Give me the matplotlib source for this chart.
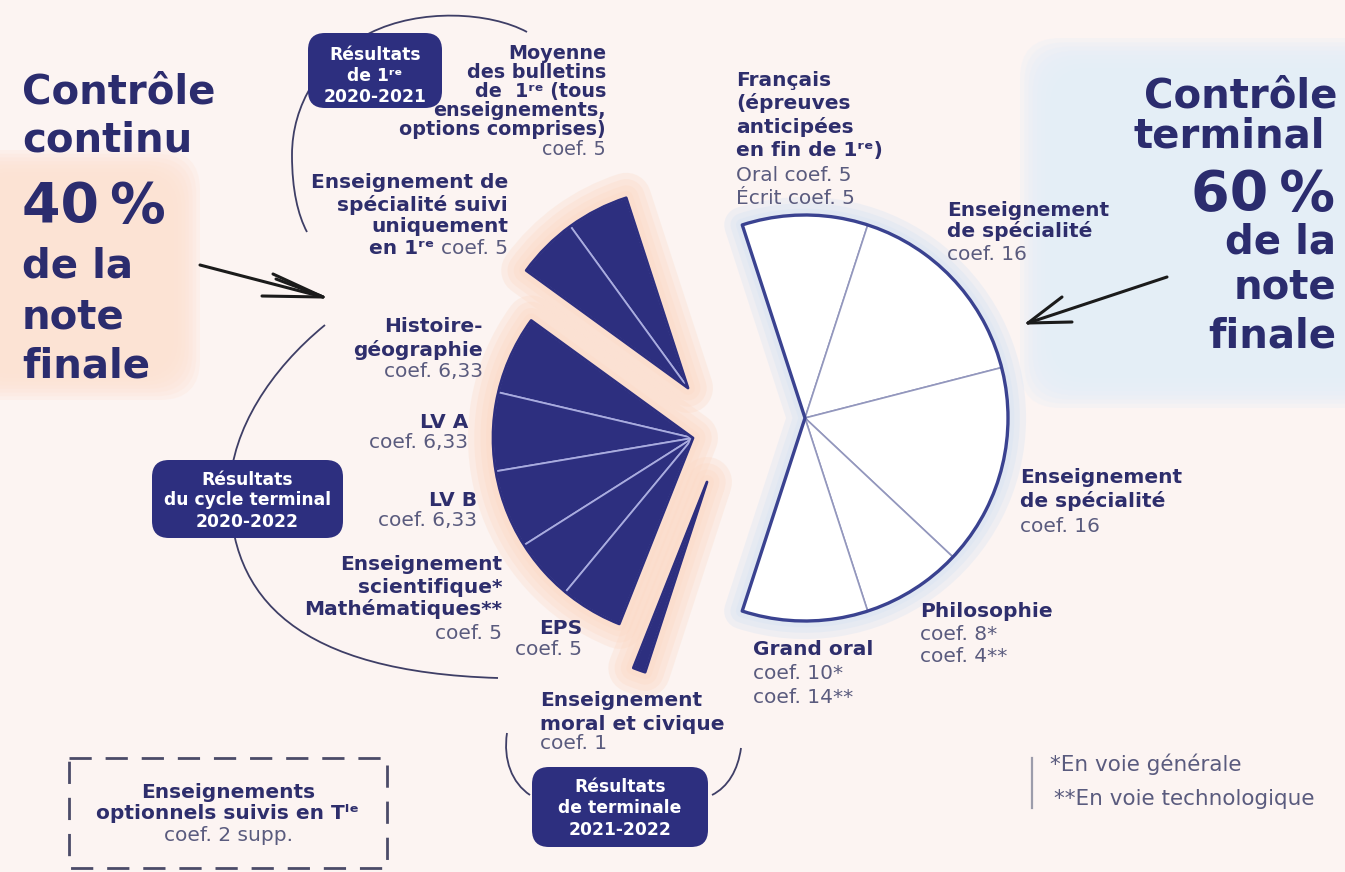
import matplotlib
matplotlib.use("Agg")
import matplotlib.pyplot as plt
from matplotlib.patches import Wedge, FancyBboxPatch, Rectangle, PathPatch
from matplotlib.path import Path
import numpy as np

# ------------------------------------------------------------------ data
left_labels = ["Moyenne des bulletins de 1re", "Spécialité suivie uniquement en 1re",
               "Histoire-géographie", "LV A", "LV B",
               "Enseignement scientifique / Mathématiques", "EPS",
               "Enseignement moral et civique"]
left_coefs = [5, 5, 6.33, 6.33, 6.33, 5, 5, 1]
left_groups = [0, 0, 1, 1, 1, 1, 1, 2]      # résultats de 1re / cycle terminal / terminale
right_labels = ["Français", "Spécialité", "Spécialité", "Philosophie", "Grand oral"]
right_coefs = [10, 16, 16, 8, 10]
headline_left = ["Contrôle", "continu", "40\u202f%", "de la", "note", "finale"]
headline_right = ["Contrôle", "terminal", "60\u202f%", "de la", "note", "finale"]

# ------------------------------------------------------------------ style
W, H = 1345, 872
BG = '#fcf4f2'
NAVY = '#2d2f7f'
NAVY_T = '#2e2e6c'
GREY_T = '#5a5b7e'
LAV = '#a9acdf'
PEACH = '#fbd9c5'
BLUE_GLOW = '#d3e2f5'
FS = 14.5

plt.rcParams['font.family'] = ['DejaVu Sans']
fig = plt.figure(figsize=(W / 100, H / 100), dpi=100, facecolor=BG)
ax = fig.add_axes([0, 0, 1, 1])
ax.set_xlim(0, W)
ax.set_ylim(H, 0)
ax.axis('off')
ax.set_facecolor(BG)
renderer = fig.canvas.get_renderer()


def soft_box(x0, y0, x1, y1, color, n=8, spread=18, alpha=0.3, rs=40):
    for i in range(n):
        d = spread * i / (n - 1)
        ax.add_patch(FancyBboxPatch((x0 + d, y0 + d), (x1 - x0) - 2 * d, (y1 - y0) - 2 * d,
                                    boxstyle=f"round,pad=0,rounding_size={rs}",
                                    fc=color, ec='none', alpha=alpha, zorder=0))


def wedge(center, r, v1, v2, **kw):
    # v1, v2: visual angles (deg, counter-clockwise); y axis is inverted
    return Wedge(center, r, -v2, -v1, **kw)


# soft background blobs
soft_box(-50, 150, 200, 400, '#fde3d3', spread=26, alpha=0.25)
soft_box(1020, 38, 1420, 408, '#e4eef9', spread=30, alpha=0.25)

# ------------------------------------------------------------------ wedge angles
total = sum(left_coefs) + sum(right_coefs)
deg = 360.0 / total
START = 108.0
lc = np.concatenate([[0], np.cumsum(left_coefs)])
left_v1 = START + deg * lc[:-1]
left_v2 = START + deg * lc[1:]
rc = np.concatenate([[0], np.cumsum(right_coefs)])
right_v2 = START - deg * rc[:-1]
right_v1 = START - deg * rc[1:]

group_center = {0: (688, 388), 1: (693, 438), 2: (707, 482)}
R_LEFT = 200
R_RIGHT_C = (805, 418)
R_RIGHT = 203

# glows
for g in sorted(set(left_groups)):
    idx = [i for i, gg in enumerate(left_groups) if gg == g]
    v1, v2 = left_v1[idx[0]], left_v2[idx[-1]]
    for lw in (36, 27, 18, 10):
        ax.add_patch(wedge(group_center[g], R_LEFT, v1, v2, fc=PEACH, ec=PEACH, lw=lw,
                           alpha=0.3, joinstyle='round', zorder=1))
for lw in (26, 17, 9):
    ax.add_patch(wedge(R_RIGHT_C, R_RIGHT, right_v1[-1], right_v2[0], fc=BLUE_GLOW,
                       ec=BLUE_GLOW, lw=lw, alpha=0.3, joinstyle='round', zorder=1))

# left (dark) wedges
for i, c in enumerate(left_coefs):
    ax.add_patch(wedge(group_center[left_groups[i]], R_LEFT, left_v1[i], left_v2[i],
                       fc=NAVY, ec=LAV, lw=1.3, zorder=3))
for g in sorted(set(left_groups)):
    idx = [i for i, gg in enumerate(left_groups) if gg == g]
    ax.add_patch(wedge(group_center[g], R_LEFT, left_v1[idx[0]], left_v2[idx[-1]],
                       fill=False, ec=NAVY, lw=2.0, joinstyle='round', zorder=4))

# right (white) wedges
for i, c in enumerate(right_coefs):
    ax.add_patch(wedge(R_RIGHT_C, R_RIGHT, right_v1[i], right_v2[i],
                       fc='white', ec='#9397bd', lw=1.2, zorder=3))
ax.add_patch(wedge(R_RIGHT_C, R_RIGHT, right_v1[-1], right_v2[0], fill=False,
                   ec='#3a4290', lw=2.4, joinstyle='round', zorder=4))

# ------------------------------------------------------------------ arcs
ARC = '#3e3e66'


def bez(pts, lw=1.3):
    codes = [Path.MOVETO] + [Path.CURVE4] * (len(pts) - 1)
    ax.add_patch(PathPatch(Path(pts, codes), fill=False, ec=ARC, lw=lw, zorder=2))


bez([(527, 32), (490, 12), (420, 8), (370, 33),
     (320, 58), (292, 105), (292, 155),
     (292, 190), (298, 215), (307, 232)])
bez([(325, 325), (270, 370), (232, 430), (230, 487),
     (228, 600), (300, 672), (498, 678)])
bez([(507, 733), (503, 760), (512, 783), (530, 795)])
bez([(741, 748), (738, 770), (728, 787), (712, 795)])

# arrows
ARW = '#1b1b1b'
for seg in [[(200, 265), (323, 297)], [(273, 274), (323, 297)], [(262, 296), (323, 297)],
            [(276, 279), (321, 296)],
            [(1167, 277), (1028, 323)], [(1062, 297), (1028, 323)], [(1072, 322), (1028, 323)]]:
    (x0, y0), (x1, y1) = seg
    ax.plot([x0, x1], [y0, y1], color=ARW, lw=2.2, solid_capstyle='round', zorder=6)

# ------------------------------------------------------------------ boxes


def nbox(x0, y0, x1, y1, lines, baselines, cx):
    ax.add_patch(FancyBboxPatch((x0, y0), x1 - x0, y1 - y0,
                                boxstyle="round,pad=0,rounding_size=17",
                                fc=NAVY, ec='none', zorder=5))
    for s, yb in zip(lines, baselines):
        ax.text(cx, yb, s, fontsize=12.3, fontweight='bold', color='white',
                ha='center', va='baseline', zorder=6)


nbox(308, 33, 442, 108, ["Résultats", "de 1ʳᵉ", "2020-2021"], [60, 81, 102], 375)
nbox(152, 460, 343, 538, ["Résultats", "du cycle terminal", "2020-2022"], [485, 505, 527], 247.5)
nbox(532, 767, 708, 847, ["Résultats", "de terminale", "2021-2022"], [792, 813, 835], 620)

ax.add_patch(Rectangle((69, 758), 318, 110, fill=False, ec='#4b4b68', lw=2.0,
                       ls=(0, (8, 5)), zorder=5))
ax.plot([1032, 1032], [758, 808], color='#9c9cab', lw=1.6, zorder=5)

# ------------------------------------------------------------------ text


def put(x, y, parts, ha='left', fs=FS):
    ws = []
    for s, b in parts:
        t = ax.text(0, 0, s, fontsize=fs, fontweight='bold' if b else 'normal')
        ws.append(t.get_window_extent(renderer).width)
        t.remove()
    gap = 0.33 * fs * 100 / 72
    tot = sum(ws) + gap * (len(parts) - 1)
    x0 = x - tot if ha == 'right' else (x - tot / 2 if ha == 'center' else x)
    for (s, b), w in zip(parts, ws):
        ax.text(x0, y, s, fontsize=fs, fontweight='bold' if b else 'normal',
                color=NAVY_T if b else GREY_T, ha='left', va='baseline', zorder=6)
        x0 += w + gap


B, Rg = True, False
blocks = [
    (508, 'right', [(188, [("Enseignement de", B)]), (211, [("spécialité suivi", B)]),
                    (232, [("uniquement", B)]), (254, [("en 1ʳᵉ", B), ("coef. 5", Rg)])]),
    (483, 'right', [(332, [("Histoire-", B)]), (356, [("géographie", B)]),
                    (377, [("coef. 6,33", Rg)])]),
    (468, 'right', [(428, [("LV A", B)]), (448, [("coef. 6,33", Rg)])]),
    (477, 'right', [(506, [("LV B", B)]), (526, [("coef. 6,33", Rg)])]),
    (502, 'right', [(570, [("Enseignement", B)]), (593, [("scientifique*", B)]),
                    (615, [("Mathématiques**", B)]), (639, [("coef. 5", Rg)])]),
    (582, 'right', [(634, [("EPS", B)]), (655, [("coef. 5", Rg)])]),
    (540, 'left', [(706, [("Enseignement", B)]), (730, [("moral et civique", B)]),
                   (749, [("coef. 1", Rg)])]),
    (736, 'left', [(86, [("Français", B)]), (109, [("(épreuves", B)]),
                   (133, [("anticipées", B)]), (156, [("en fin de 1ʳᵉ)", B)]),
                   (181, [("Oral coef. 5", Rg)]), (204, [("Écrit coef. 5", Rg)])]),
    (947, 'left', [(216, [("Enseignement", B)]), (237, [("de spécialité", B)]),
                   (260, [("coef. 16", Rg)])]),
    (1020, 'left', [(483, [("Enseignement", B)]), (507, [("de spécialité", B)]),
                    (532, [("coef. 16", Rg)])]),
    (920, 'left', [(617, [("Philosophie", B)]), (640, [("coef. 8*", Rg)]),
                   (662, [("coef. 4**", Rg)])]),
    (753, 'left', [(655, [("Grand oral", B)]), (679, [("coef. 10*", Rg)]),
                   (703, [("coef. 14**", Rg)])]),
    (228, 'center', [(798, [("Enseignements", B)]), (819, [("optionnels suivis en Tˡᵉ", B)]),
                     (841, [("coef. 2 supp.", Rg)])]),
]
for x, ha, lines in blocks:
    for yb, parts in lines:
        put(x, yb, parts, ha=ha)

# tighter block at the top (moyenne des bulletins)
top_lines = [(59, [("Moyenne", B)]), (78, [("des bulletins", B)]),
             (97, [("de  1ʳᵉ (tous", B)]), (116, [("enseignements,", B)]),
             (135, [("options comprises)", B)]), (155, [("coef. 5", Rg)])]
for yb, parts in top_lines:
    put(606, yb, parts, ha='right', fs=13.8)

put(1050, 771, [("*En voie générale", Rg)], fs=15.5)
put(1054, 805, [("**En voie technologique", Rg)], fs=15.5)

# headlines
HEAD = '#2b2c6e'
left_base = [103, 152, 222, 277, 328, 377]
right_base = [108, 148, 210, 253, 298, 347]
right_x = [1337, 1325, 1335, 1336, 1336, 1336]
for s, yb in zip(headline_left, left_base):
    ax.text(22, yb, s, fontsize=40 if '%' in s else 29, fontweight='bold', color=HEAD,
            ha='left', va='baseline', zorder=6)
for s, yb, xr in zip(headline_right, right_base, right_x):
    ax.text(xr, yb, s, fontsize=40 if '%' in s else 29, fontweight='bold', color=HEAD,
            ha='right', va='baseline', zorder=6)

fig.savefig("out.png", dpi=100, facecolor=BG)
